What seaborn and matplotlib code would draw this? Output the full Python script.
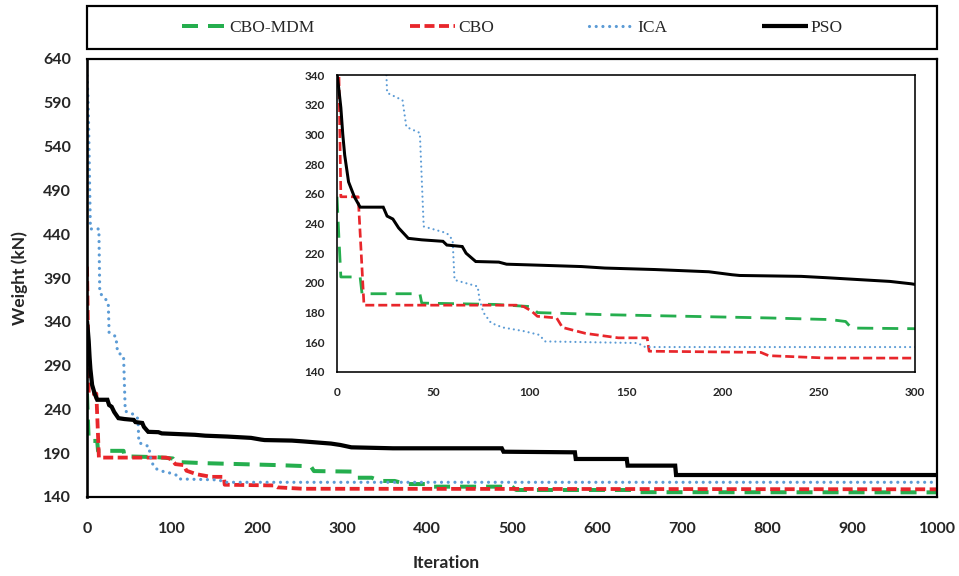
import numpy as np
import pandas as pd
import matplotlib
matplotlib.use("Agg")
import matplotlib.pyplot as plt
from matplotlib.patches import Rectangle
import seaborn as sns

# ---------------- data ----------------
mdm_iter = [0, 1, 2, 12, 13, 43, 44, 82, 101, 104, 139, 182, 224, 256, 264, 267,
            312, 316, 335, 345, 362, 375, 400, 405, 500, 505, 640, 647, 1000]
mdm_weight = [258, 230, 204, 204, 192.7, 192.7, 186.4, 185.5, 184, 180, 178.6, 177.5,
              176.4, 175.3, 174, 169.6, 169, 162, 162, 158.3, 158.3, 154.8, 154.8,
              151.8, 151.8, 148, 148, 145.5, 145.3]

cbo_iter = [0, 1, 2, 11, 14, 93, 97, 101, 104, 114, 117, 129, 146, 161, 162, 220,
            224, 254, 1000]
cbo_weight = [403, 340, 258, 258, 185, 185, 184, 181, 177.5, 176.4, 170, 166, 163, 163,
              154, 153.2, 151, 149.4, 148.8]

ica_iter = [0, 1, 2, 3, 4, 14, 15, 20, 25, 26, 34, 36, 43, 45, 57, 60, 61, 73, 74, 76,
            80, 86, 97, 105, 108, 156, 160, 1000]
ica_weight = [621, 600, 560, 500, 446, 446, 373, 368, 362, 328, 323, 305, 301, 238,
              233.5, 229, 202, 197.6, 188.7, 180, 173, 170, 167.5, 165, 160.6, 159.5,
              156.8, 156.8]

pso_iter = [0, 1, 2, 3, 4, 6, 9, 12, 24, 26, 29, 32, 37, 44, 55, 57, 65, 67, 72, 84, 88,
            103, 127, 139, 165, 193, 205, 209, 241, 254, 287, 298, 311, 360, 488, 490,
            574, 575, 635, 636, 692, 693, 1000]
pso_weight = [341, 330, 318, 300, 286, 268, 258, 251, 251, 245, 243, 237, 230, 229, 228,
              225.5, 224.5, 220, 214.4, 214, 212.6, 212, 211, 210, 209, 207.5, 205.5, 205,
              204.4, 203.5, 201, 199.4, 196.7, 195.6, 195.6, 191.7, 191, 183.4, 183.4,
              175.8, 175.8, 165.1, 165.1]

series_names = ["CBO-MDM", "CBO", "ICA", "PSO"]
main_ticks_y = [140, 190, 240, 290, 340, 390, 440, 490, 540, 590, 640]
main_ticks_x = [0, 100, 200, 300, 400, 500, 600, 700, 800, 900, 1000]
inset_ticks_y = [140, 160, 180, 200, 220, 240, 260, 280, 300, 320, 340]
inset_ticks_x = [0, 50, 100, 150, 200, 250, 300]

frames = []
for name, it, w in zip(series_names,
                       [mdm_iter, cbo_iter, ica_iter, pso_iter],
                       [mdm_weight, cbo_weight, ica_weight, pso_weight]):
    frames.append(pd.DataFrame({"Iteration": it, "Weight": w, "Algorithm": name}))
df = pd.concat(frames, ignore_index=True)

# ---------------- style ----------------
sns.set_style("white")
plt.rcParams["font.family"] = ["Lato", "DejaVu Sans"]

PX = 72.0 / 100.0  # points per pixel

colors = {"CBO-MDM": "#25AE4E", "CBO": "#E8262B", "ICA": "#5B9BD5", "PSO": "#000000"}

# line width (px), dash (on px, off px) or None, capstyle
main_styles = {
    "CBO-MDM": (4.0, (16, 10), "butt"),
    "CBO": (3.8, (10, 4.5), "butt"),
    "ICA": (3.2, (0.01, 6.7), "round"),
    "PSO": (4.2, None, "butt"),
}
inset_styles = {
    "CBO-MDM": (2.8, (16, 9), "butt"),
    "CBO": (2.7, (9, 4), "butt"),
    "ICA": (2.2, (0.01, 5.0), "round"),
    "PSO": (3.0, None, "butt"),
}


def draw(ax, styles):
    for name in series_names:
        lw_px, dash, cap = styles[name]
        kw = dict(color=colors[name], linewidth=lw_px * PX, sort=False,
                  estimator=None, legend=False, label=name)
        if dash is None:
            kw["linestyle"] = "-"
            kw["solid_capstyle"] = "butt"
            kw["solid_joinstyle"] = "miter"
        else:
            kw["linestyle"] = (0, (dash[0] / lw_px, dash[1] / lw_px))
            kw["dash_capstyle"] = cap
        sub = df[df["Algorithm"] == name]
        sns.lineplot(data=sub, x="Iteration", y="Weight", ax=ax, **kw)


W, H = 959, 576
fig = plt.figure(figsize=(W / 100, H / 100), dpi=100)


def rect(l, t, r, b):
    return [l / W, 1 - b / H, (r - l) / W, (b - t) / H]


# ---------------- main axes ----------------
ax = fig.add_axes(rect(87, 59, 937, 497))
draw(ax, main_styles)
ax.set_xlim(0, 1000)
ax.set_ylim(140, 640)
ax.set_xticks(main_ticks_x)
ax.set_yticks(main_ticks_y)
ax.tick_params(axis="both", length=0, labelsize=11.5)
ax.tick_params(axis="x", pad=18)
ax.tick_params(axis="y", pad=11.5)
for lab in ax.get_xticklabels() + ax.get_yticklabels():
    lab.set_fontweight("bold")
ax.set_xlabel("Iteration", fontsize=12.5, fontweight="bold")
ax.set_ylabel("Weight (kN)", fontsize=12.5, fontweight="bold")
ax.xaxis.set_label_coords((446 - 87) / 850, (497 - 555) / 438)
ax.yaxis.set_label_coords((28 - 87) / 850, 0.5)
for s in ax.spines.values():
    s.set_visible(True)
    s.set_color("black")
    s.set_linewidth(2.2 * PX)
ax.spines["left"].set_linewidth(2.6 * PX)

# ---------------- inset axes ----------------
axi = fig.add_axes(rect(337, 75, 915, 372))
draw(axi, inset_styles)
axi.set_xlim(0, 300)
axi.set_ylim(140, 340)
axi.set_xticks(inset_ticks_x)
axi.set_yticks(inset_ticks_y)
axi.set_xlabel("")
axi.set_ylabel("")
axi.tick_params(axis="both", direction="inout", length=7 * PX * 1.0 / PX * PX,
                width=1.5 * PX, labelsize=8.5, color="black")
axi.tick_params(axis="x", pad=8.5)
axi.tick_params(axis="y", pad=6.5)
for lab in axi.get_xticklabels() + axi.get_yticklabels():
    lab.set_fontweight("bold")
axi.set_facecolor("white")
for s in axi.spines.values():
    s.set_visible(True)
    s.set_color("black")
    s.set_linewidth(1.6 * PX)

# ---------------- legend box ----------------
fig.patches.append(Rectangle((87 / W, 1 - 49 / H), 850 / W, 43 / H,
                             transform=fig.transFigure, fill=False,
                             edgecolor="black", linewidth=2.2 * PX))
handles = ax.get_lines()[:4]
leg = fig.legend(handles, series_names, loc="center",
                 bbox_to_anchor=(512 / W, 1 - 27.5 / H), ncol=4, frameon=False,
                 handlelength=2.6, handletextpad=0.15, columnspacing=5.5,
                 prop={"family": ["Liberation Serif"], "size": 12.5})

fig.savefig("out.png", dpi=100)
